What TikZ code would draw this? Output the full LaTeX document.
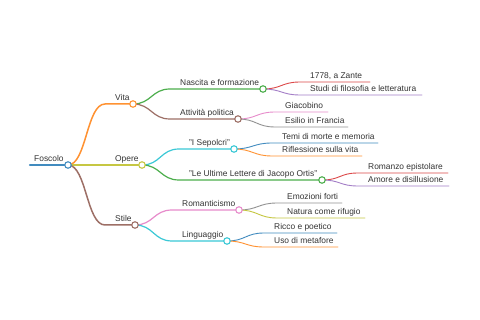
\documentclass[tikz,border=0pt]{standalone}
\usepackage{fontspec}
\setmainfont{Liberation Sans}
\usetikzlibrary{calc}
\definecolor{mmblue}{HTML}{1F77B4}
\definecolor{mmorange}{HTML}{FF7F0E}
\definecolor{mmgreen}{HTML}{2CA02C}
\definecolor{mmred}{HTML}{D62728}
\definecolor{mmpurple}{HTML}{9467BD}
\definecolor{mmbrown}{HTML}{8C564B}
\definecolor{mmpink}{HTML}{E377C2}
\definecolor{mmgray}{HTML}{7F7F7F}
\definecolor{mmolive}{HTML}{BCBD22}
\definecolor{mmcyan}{HTML}{17BECF}
\definecolor{mmink}{HTML}{333333}

\begin{document}
\begin{tikzpicture}[x=1pt,y=-1pt,
    mmtext/.style={anchor=base west,inner sep=0pt,text=mmink,
                   font=\fontsize{8.4}{10}\selectfont},
    mmlink/.style={draw=#1!85,line width=1pt,line cap=round},
    mmdot/.style={circle,draw=#1!85,fill=white,line width=1.1pt,
                  minimum size=6.5pt,inner sep=0pt}]
    \fill[white] (0,0) rectangle (480,320);
    \useasboundingbox (0,0) rectangle (480,320);
    % Radice
    \coordinate (s-fos) at (30,165);
    \coordinate (c-fos) at (68,165);
    \draw[mmlink=mmblue,line width=2.4pt] (s-fos) -- (c-fos);
    \node[mmtext] (t-fos) at ($(s-fos)+(4,-3)$) {Foscolo};
    % Livello 1
    \foreach \pa/\n/\xs/\y/\xc/\col/\txt in {
        fos/vit/105/104/133/mmorange/Vita,
        fos/ope/105/165/142/mmolive/Opere,
        fos/sti/105/225/135/mmbrown/Stile}{
        \coordinate (s-\n) at (\xs,\y);
        \coordinate (c-\n) at (\xc,\y);
        \draw[mmlink=\col,line width=1.5pt] (c-\pa)
            .. controls +(18.5,0) and +(-18.5,0) .. (s-\n) -- (c-\n);
        \node[mmtext] (t-\n) at ($(s-\n)+(10,-3)$) {\txt};
    }
    % Livello 2
    \foreach \pa/\n/\xs/\y/\xc/\col/\txt in {
        vit/nas/170/89/263/mmgreen/{Nascita e formazione},
        vit/att/170/119/238/mmbrown/{Attività politica},
        ope/sep/179/149/234/mmcyan/{"I Sepolcri"},
        ope/ort/179/180/322/mmgreen/{"Le Ultime Lettere di Jacopo Ortis"},
        sti/rom/172/210/239/mmpink/Romanticismo,
        sti/lin/172/241/227/mmcyan/Linguaggio}{
        \coordinate (s-\n) at (\xs,\y);
        \coordinate (c-\n) at (\xc,\y);
        \draw[mmlink=\col,line width=1.2pt] (c-\pa)
            .. controls +(18.5,0) and +(-18.5,0) .. (s-\n) -- (c-\n);
        \node[mmtext] (t-\n) at ($(s-\n)+(10,-3)$) {\txt};
    }
    % Foglie
    \foreach \pa/\n/\xs/\y/\xe/\col/\txt in {
        nas/zan/300/82/370/mmred/{1778, a Zante},
        nas/stu/300/95/422/mmpurple/{Studi di filosofia e letteratura},
        att/gia/275/112/328/mmpink/Giacobino,
        att/esi/275/127/348/mmgray/{Esilio in Francia},
        sep/tem/272/143/378/mmblue/{Temi di morte e memoria},
        sep/rif/272/156/362/mmorange/{Riflessione sulla vita},
        ort/rom2/358/173/448/mmred/{Romanzo epistolare},
        ort/amo/358/186/449/mmpurple/{Amore e disillusione},
        rom/emo/277/203/342/mmgray/{Emozioni forti},
        rom/nat/277/218/365/mmolive/{Natura come rifugio},
        lin/ric/264/233/337/mmblue/{Ricco e poetico},
        lin/uso/264/247/338/mmorange/{Uso di metafore}}{
        \coordinate (s-\n) at (\xs,\y);
        \coordinate (e-\n) at (\xe,\y);
        \draw[mmlink=\col,line width=0.9pt] (c-\pa)
            .. controls +(18.5,0) and +(-18.5,0) .. (s-\n) -- (e-\n);
        \node[mmtext] (t-\n) at ($(s-\n)+(10,-3)$) {\txt};
    }
    % Cerchi
    \foreach \n/\col in {fos/mmblue,vit/mmorange,ope/mmolive,sti/mmbrown,
        nas/mmgreen,att/mmbrown,sep/mmcyan,ort/mmgreen,rom/mmpink,lin/mmcyan}{
        \node[mmdot=\col] (d-\n) at (c-\n) {};
    }
\end{tikzpicture}
\end{document}
